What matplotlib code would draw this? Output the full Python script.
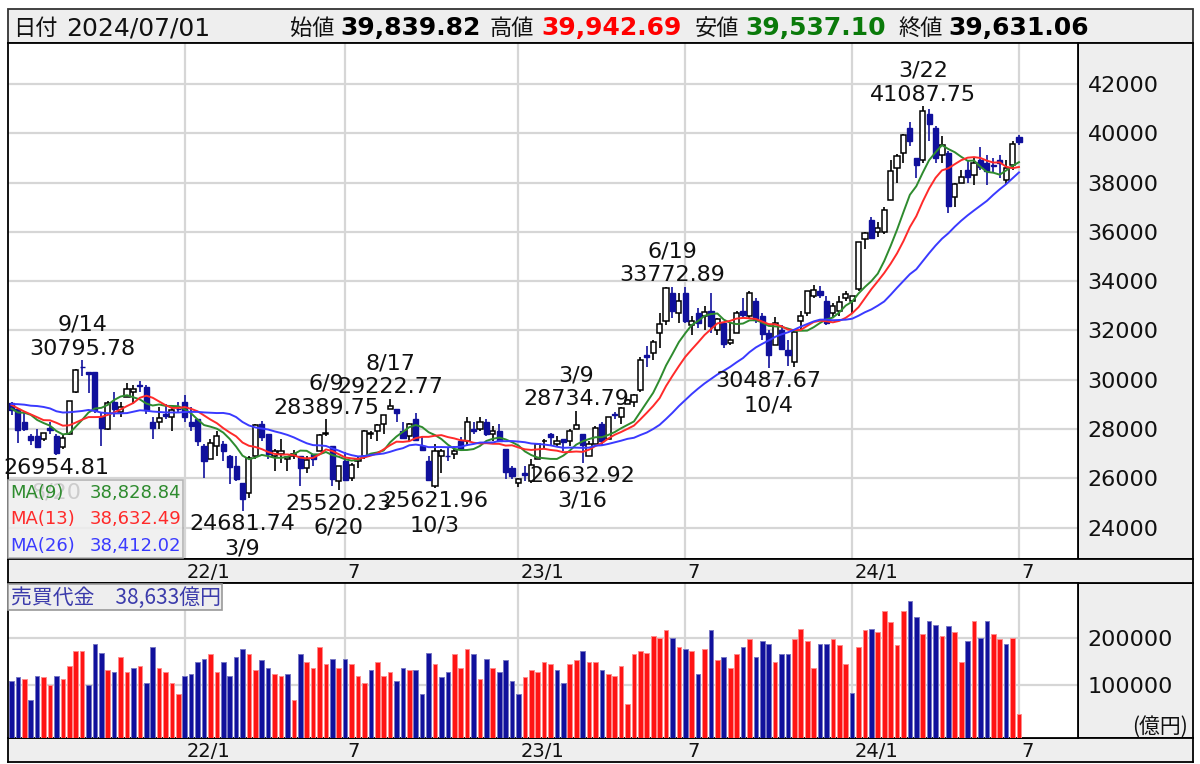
import matplotlib
matplotlib.use("Agg")
import matplotlib.pyplot as plt
from matplotlib.patches import Rectangle
from matplotlib.transforms import offset_copy
import numpy as np
import pandas as pd

plt.rcParams['font.family'] = ['DejaVu Sans', 'Noto Sans CJK JP']

# ------------------------------------------------------------------ data
first_week = "2021-06-28"          # Monday of the first weekly candle

opens = [
    29050, 28800, 28300, 27700, 27700, 27600, 28050, 27700, 27250, 27800,
    29500, 30500, 30300, 30300, 28500, 28000, 29100, 28700, 29300, 29500,
    29800, 29700, 28300, 28300, 28600, 28500, 28800,
    29100, 28300, 28400, 27300, 26800, 27300, 27400, 26900, 26500, 25800,
    25400, 26900, 28200, 27800, 26900, 27000, 26800, 26900, 26900, 26400,
    27000, 27100, 27800, 27300, 25900, 26700, 26000, 26700, 26900, 27800,
    27900, 28200, 28800, 28800, 27900, 27700, 28400, 27300, 26700, 25700,
    26900, 26900, 27000, 27500, 27500, 28000, 28000, 28300, 27800, 27900,
    27200, 26400,
    25800, 26200, 25900, 26800, 27500, 27800, 27400, 27600, 27500, 28000,
    27800, 26900, 27400, 28200, 27600, 28600, 28500, 29000, 29100, 29600,
    31000, 31100, 31900, 32400, 33500, 32700, 33500, 32200, 32700, 32600,
    32800, 32000, 32300, 31500, 31900, 32800, 32600, 33200, 32600, 31900,
    31400, 32000, 31200, 30700, 32400, 32700, 33400, 33600, 33200, 32700,
    32800, 33300,
    33200, 33700, 35700, 36500, 36000, 36000, 37300, 38600, 39200, 40200,
    39000, 38900, 40800, 40200, 39100, 39200, 37400, 38000, 38500, 38300,
    38900, 38800, 38700, 38900, 38100, 38700, 39839.82]

highs = [
    29100, 28820, 28720, 27800, 28000, 27830, 28280, 27800, 27750, 29130,
    30450, 30795.78, 30300, 30300, 28700, 29150, 29490, 29100, 29880, 29800,
    29960, 29800, 28500, 28900, 29000, 28900, 29100,
    29388, 28900, 28400, 27400, 27600, 27900, 27500, 26950, 26900, 25800,
    26900, 28200, 28338, 27800, 27200, 27580, 26900, 27150, 26900, 26900,
    27000, 27800, 28389.75, 27300, 26500, 27060, 26600, 26900, 27950, 27900,
    28200, 28550, 29222.77, 28800, 28300, 28250, 28650, 27700, 26900, 27400,
    27200, 27250, 27300, 27660, 28500, 28300, 28500, 28400, 28100, 28200,
    27200, 26500,
    26000, 26500, 26800, 27400, 27600, 27850, 27700, 27600, 28000, 28734.79,
    27800, 27500, 28100, 28300, 28500, 28700, 28900, 29200, 29400, 30900,
    31350, 31600, 32700, 33760, 33772.89, 33500, 33760, 32600, 32900, 33000,
    33500, 32500, 32300, 32300, 32800, 33300, 33600, 33300, 32700, 32000,
    32550, 32200, 31600, 32000, 32800, 33600, 33850, 33800, 33400, 33100,
    33400, 33600,
    33400, 35600, 36000, 36600, 36400, 37000, 38900, 39160, 39990, 40470,
    39000, 41087.75, 41000, 40300, 39900, 39300, 38000, 38500, 38900, 39000,
    39440, 39100, 39000, 39100, 38900, 39700, 39942.69]

lows = [
    28550, 27420, 27900, 27330, 27270, 27500, 27780, 26954.81, 27200, 27750,
    29450, 30150, 29450, 28650, 27290, 27950, 28500, 28500, 29300, 29000,
    29500, 28600, 27600, 28000, 28400, 27900, 28700,
    28300, 27900, 27300, 26000, 26800, 26900, 26700, 25775, 25900, 24681.74,
    25200, 26800, 27500, 26800, 26300, 26600, 26300, 26800, 25690, 26200,
    26500, 27100, 27700, 25700, 25520.23, 25900, 25900, 26400, 26800, 27600,
    27500, 27800, 28800, 28300, 27600, 27500, 27500, 27100, 25900, 25621.96,
    26200, 26700, 26800, 27100, 27300, 27800, 27900, 27700, 27500, 27500,
    25950, 25950,
    25662, 25900, 25800, 26800, 27200, 27350, 27300, 27100, 27300, 28000,
    26632.92, 26900, 27400, 27300, 27600, 28400, 28200, 29000, 28900, 29500,
    30500, 30800, 31300, 32200, 32500, 32300, 32300, 31800, 32100, 32000,
    31900, 31800, 31300, 31400, 31900, 32500, 32500, 32300, 31600, 30487.67,
    31400, 31200, 30550, 30500, 32000, 32600, 33300, 33300, 32200, 32500,
    32600, 33200,
    32700, 33600, 35300, 35700, 35800, 35900, 37300, 38000, 38800, 39500,
    38200, 38800, 39700, 38800, 38800, 36750, 37000, 38000, 38000, 37900,
    38500, 37900, 38400, 38200, 37950, 38500, 39537.10]

closes = [
    28783, 27940, 28003, 27548, 27284, 27820, 27977, 27013, 27641, 29128,
    30381, 30500, 30248, 28771, 28048, 29068, 28804, 28892, 29611, 29609,
    29745, 28751, 28029, 28437, 28545, 28782, 28791,
    28478, 28124, 27522, 26717, 27440, 27696, 27122, 26476, 25985, 25163,
    26827, 28149, 27665, 26985, 27093, 27105, 26847, 27003, 26427, 26739,
    26781, 27761, 27824, 25963, 26491, 25935, 26517, 26788, 27914, 27801,
    28175, 28546, 28930, 28641, 27650, 28214, 27567, 27153, 25937, 27116,
    27090, 26890, 27105, 27199, 28263, 27899, 28283, 27777, 27901, 27527,
    26235, 26094,
    25973, 26119, 26553, 27382, 27509, 27670, 27513, 27453, 27927, 28143,
    27333, 27385, 28041, 27518, 28493, 28564, 28856, 29157, 29388, 30808,
    30916, 31524, 32265, 33706, 32781, 33189, 32388, 32391, 32304, 32759,
    32193, 32473, 31450, 31624, 32710, 32606, 33533, 32402, 31857, 30995,
    32315, 31259, 30991, 31950, 32568, 33585, 33625, 33431, 32307, 32970,
    33169, 33464,
    33377, 35577, 35963, 35751, 36158, 36897, 38487, 39098, 39910, 39688,
    38707, 40888, 40369, 38992, 39523, 37068, 37934, 38236, 38229, 38787,
    38646, 38487, 38683, 38814, 38596, 39583, 39631.06]

# weekly closes before the first candle (used only for moving averages / colours)
closes_prior = [
    28139, 28519, 28631, 27663, 28779, 29520, 30017, 28966, 28864, 29717,
    29792, 29176, 29854, 29768, 29683, 29020, 28812, 29357, 28084, 28317,
    29149, 28941, 28948, 28964, 28875]

# weekly trading value (億円)
turnover = [
    109000, 118000, 113000, 69000, 121000, 118000, 101000, 121000, 113000, 141000,
    174000, 174000, 101000, 189000, 169000, 133000, 129000, 161000, 129000, 136000,
    141000, 106000, 182000, 137000, 129000, 106000, 81000,
    121000, 125000, 149000, 157000, 166000, 129000, 149000, 121000, 161000, 177000,
    166000, 133000, 154000, 137000, 125000, 121000, 125000, 69000, 166000, 149000,
    137000, 182000, 145000, 157000, 137000, 157000, 145000, 121000, 106000, 133000,
    149000, 121000, 129000, 109000, 137000, 133000, 133000, 81000, 169000, 145000,
    118000, 129000, 166000, 137000, 177000, 166000, 113000, 157000, 137000, 129000,
    154000, 109000,
    81000, 118000, 133000, 129000, 149000, 145000, 133000, 106000, 145000, 154000,
    174000, 149000, 150000, 133000, 125000, 121000, 141000, 61000, 166000, 174000,
    170000, 206000, 201000, 218000, 201000, 182000, 177000, 174000, 125000, 177000,
    218000, 154000, 161000, 137000, 166000, 182000, 198000, 161000, 194000, 189000,
    149000, 166000, 166000, 198000, 221000, 194000, 137000, 189000, 189000, 198000,
    186000, 145000,
    84000, 182000, 218000, 221000, 213000, 259000, 234000, 186000, 259000, 279000,
    246000, 209000, 238000, 229000, 206000, 226000, 213000, 149000, 194000, 238000,
    201000, 238000, 209000, 198000, 189000, 201000, 38633]

ma_periods = [9, 13, 26]
ma_colors = ['#2e8b2e', '#ff2a2a', '#3a3aff']
ma_values = ["38,828.84", "38,632.49", "38,412.02"]   # as printed in the legend

header_items = [("日付", None), ("2024/07/01", None), ("始値", None),
                ("39,839.82", 'black'), ("高値", None), ("39,942.69", '#ff0000'),
                ("安値", None), ("39,537.10", '#0a7a0a'), ("終値", None),
                ("39,631.06", 'black')]

price_ticks = list(range(24000, 42001, 2000))
vol_ticks = [100000, 200000]

# extreme points annotated on the chart: (date label, week index, kind)
peaks = [("9/14", 11, 'high'), ("8/20", 7, 'low'), ("3/9", 36, 'low'),
         ("6/9", 49, 'high'), ("6/20", 51, 'low'), ("8/17", 59, 'high'),
         ("10/3", 66, 'low'), ("3/9", 88, 'high'), ("3/16", 89, 'low'),
         ("6/19", 103, 'high'), ("10/4", 118, 'low'), ("3/22", 142, 'high')]

# ------------------------------------------------------------------ layout
W, H, DPI = 1200, 764, 100
fig = plt.figure(figsize=(W / DPI, H / DPI), dpi=DPI)
fig.patch.set_facecolor('white')

SLOT = 6.417      # px per weekly bar
X0 = 11.5         # px position of bar 0
LEFT, PRIGHT, ORIGHT = 8, 1078, 1193
GRAY = '#eeeeee'
BLUE = '#10109c'
GRID = '#d6d6d6'


def frac(x0, y0, x1, y1):
    return [x0 / W, 1 - y1 / H, (x1 - x0) / W, (y1 - y0) / H]


def xl(px0, px1):
    return ((px0 - X0) / SLOT, (px1 - X0) / SLOT)


def fig_rect(x0, y0, x1, y1, **kw):
    r = Rectangle((x0 / W, 1 - y1 / H), (x1 - x0) / W, (y1 - y0) / H,
                  transform=fig.transFigure, **kw)
    fig.add_artist(r)
    return r


def fig_text(x, y, s, **kw):
    return fig.text(x / W, 1 - y / H, s, **kw)


n = len(closes)
idx = np.arange(n)
O, Hh, L, C = (np.array(a, dtype=float) for a in (opens, highs, lows, closes))
up = C > O

weeks = pd.date_range(first_week, periods=n, freq='W-MON')
wk_month = (weeks + pd.Timedelta(days=4))
tick_idx, tick_lab = [], []
for i in range(1, n):
    if wk_month[i].month != wk_month[i - 1].month and wk_month[i].month in (1, 7):
        tick_idx.append(i)
        tick_lab.append(f"{wk_month[i].year % 100}/1" if wk_month[i].month == 1 else "7")

# header
fig_rect(LEFT, 9, ORIGHT, 43, facecolor=GRAY, edgecolor='#333333', lw=1.3, zorder=-1)
hx = [13, 66, 290, 340, 490, 541, 695, 745, 898, 948]
for (s, col), x in zip(header_items, hx):
    if col is None:
        if s[0].isdigit():
            fig_text(x, 35, s, fontsize=18, color='#111111', va='baseline')
        else:
            fig_text(x, 35, s, fontsize=16, color='#111111', va='baseline',
                     family=['Noto Sans CJK JP'])
    else:
        fig_text(x, 35, s, fontsize=18, color=col, fontweight='bold', va='baseline')

# right side panels
fig_rect(PRIGHT, 43, ORIGHT, 559, facecolor=GRAY, edgecolor='black', lw=1.3, zorder=-1)
fig_rect(PRIGHT, 583, ORIGHT, 738, facecolor=GRAY, edgecolor='black', lw=1.3, zorder=-1)

# ---------------- price panel
axp = fig.add_axes(frac(LEFT, 43, PRIGHT, 559))
axp.set_xlim(*xl(LEFT, PRIGHT))
axp.set_ylim(22722, 43664)
axp.set_yticks(price_ticks)
axp.set_yticklabels([str(t) for t in price_ticks])
axp.yaxis.tick_right()
axp.tick_params(axis='y', length=0, pad=7, labelsize=16, colors='#111111')
axp.set_xticks(tick_idx)
axp.tick_params(axis='x', length=0, labelbottom=False)
axp.grid(True, color=GRID, lw=1.6)
axp.set_axisbelow(True)
for s in axp.spines.values():
    s.set_linewidth(1.3)

axp.vlines(idx[up], L[up], Hh[up], color='black', lw=1.2, zorder=2)
axp.vlines(idx[~up], L[~up], Hh[~up], color=BLUE, lw=1.2, zorder=2)
body_h = np.maximum(np.abs(C - O), 30)
body_b = np.minimum(O, C)
axp.bar(idx[up], body_h[up], bottom=body_b[up], width=0.8, facecolor='white',
        edgecolor='black', lw=1.1, zorder=3)
axp.bar(idx[~up], body_h[~up], bottom=body_b[~up], width=0.8, facecolor=BLUE,
        edgecolor=BLUE, lw=1.0, zorder=3)

allc = pd.Series(list(closes_prior) + list(closes), dtype=float)
for p, col in zip(ma_periods, ma_colors):
    ma = allc.rolling(p).mean().to_numpy()[len(closes_prior):]
    axp.plot(idx, ma, color=col, lw=1.4, zorder=4)

pt = 72 / DPI
for lab, i, kind in peaks:
    if kind == 'high':
        v = highs[i]
        dv, dd = 5.5, 29.5
    else:
        v = lows[i]
        dv, dd = -19.5, -43.5
    axp.annotate(f"{v:.2f}", (i, v), xytext=(0, dv * pt), textcoords='offset points',
                 ha='center', va='baseline', fontsize=16, color='#111111', zorder=6)
    axp.annotate(lab, (i, v), xytext=(0, dd * pt), textcoords='offset points',
                 ha='center', va='baseline', fontsize=16, color='#111111', zorder=6)

# MA legend (semi transparent)
fig_rect(LEFT, 480, 183, 558, facecolor=GRAY, edgecolor='#aaaaaa', lw=1.2,
         alpha=0.85, zorder=5)
for k, (p, col, val) in enumerate(zip(ma_periods, ma_colors, ma_values)):
    yy = 498 + k * 26.5
    fig_text(10, yy, f"MA({p})", fontsize=13, color=col, va='baseline', zorder=6)
    fig_text(181, yy, val, fontsize=13, color=col, va='baseline',
             ha='right', zorder=6)

# ---------------- date strips
for (y0, y1) in [(559, 583), (738, 762)]:
    axd = fig.add_axes(frac(LEFT, y0, ORIGHT, y1), facecolor=GRAY)
    axd.set_xlim(*xl(LEFT, ORIGHT))
    axd.set_ylim(0, 1)
    axd.set_xticks([])
    axd.set_yticks([])
    for s in axd.spines.values():
        s.set_linewidth(1.3)
    tr = offset_copy(axd.transData, fig=fig, x=2, y=0, units='dots')
    for i, lab in zip(tick_idx, tick_lab):
        axd.text(i, 0.45, lab, transform=tr, ha='left', va='center',
                 fontsize=14, color='#111111')

# ---------------- volume panel
VMIN, VMAX = -12000, 318000
axv = fig.add_axes(frac(LEFT, 583, PRIGHT, 738))
axv.set_xlim(*xl(LEFT, PRIGHT))
axv.set_ylim(VMIN, VMAX)
axv.set_yticks(vol_ticks)
axv.set_yticklabels([str(t) for t in vol_ticks])
axv.yaxis.tick_right()
axv.tick_params(axis='y', length=0, pad=7, labelsize=16, colors='#111111')
axv.set_xticks(tick_idx)
axv.tick_params(axis='x', length=0, labelbottom=False)
axv.grid(True, color=GRID, lw=1.6)
axv.set_axisbelow(True)
for s in axv.spines.values():
    s.set_linewidth(1.3)

vol = np.array(turnover, dtype=float)
prev_c = np.r_[closes_prior[-1], C[:-1]]
vup = C > prev_c
axv.bar(idx[vup], vol[vup] - VMIN, bottom=VMIN, width=0.72, facecolor='#ff1414',
        edgecolor='#ff8c8c', lw=0.7, zorder=3)
axv.bar(idx[~vup], vol[~vup] - VMIN, bottom=VMIN, width=0.72, facecolor=BLUE,
        edgecolor='#7878c4', lw=0.7, zorder=3)

fig_text(1188, 733, "(億円)", fontsize=15, ha='right', va='baseline', color='#111111',
         family=['Noto Sans CJK JP'])

fig_rect(LEFT, 584, 222, 610, facecolor=GRAY, edgecolor='#999999', lw=1.2, zorder=5)
fig_text(11, 604, f"売買代金　{int(turnover[-1]):,}億円", fontsize=15, color='#3b3bab',
         va='baseline', zorder=6, family=['Noto Sans CJK JP'])

fig.savefig("out.png", dpi=DPI)
